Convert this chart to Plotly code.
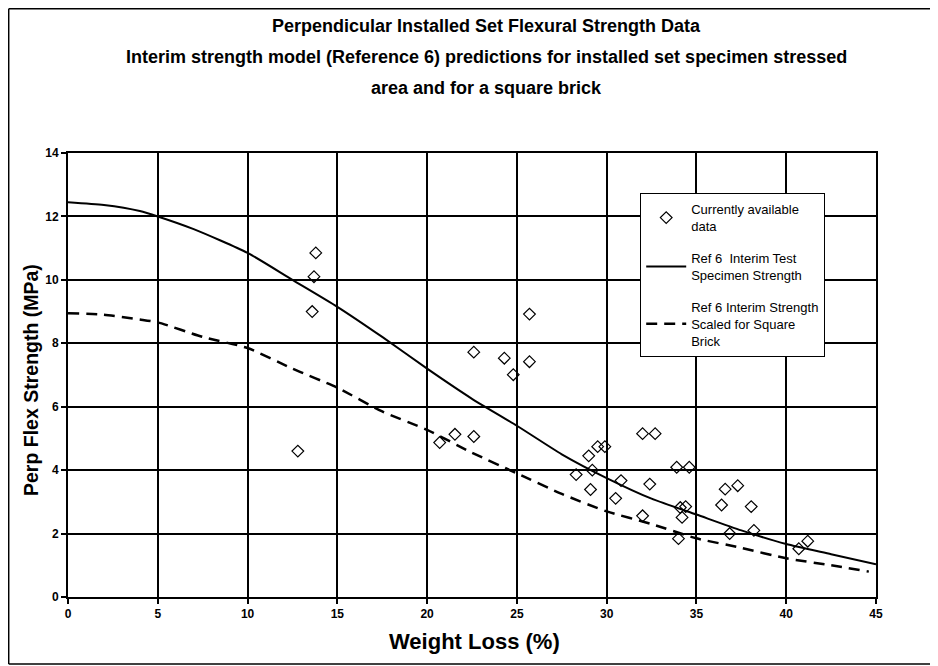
import plotly.graph_objects as go

# Measured data points (weight loss %, strength MPa)
data_x = [13.8, 13.7, 13.6, 12.8, 25.7,
          22.6, 24.3, 25.7, 24.8, 20.7, 21.55, 22.6, 29.5, 29.9, 29.0, 29.2, 28.3, 29.1,
          30.8, 30.5, 32.4, 32.0, 32.0, 32.7,
          33.9, 34.6, 34.1, 34.4, 34.2, 34.0, 36.6, 37.3, 36.4, 38.05, 36.85, 38.2, 40.7, 41.2]
data_y = [10.85, 10.1, 9.0, 4.6, 8.92,
          7.72, 7.53, 7.42, 7.01, 4.87, 5.13, 5.06, 4.74, 4.74, 4.45, 4.0, 3.86, 3.39,
          3.67, 3.11, 3.56, 2.56, 5.15, 5.15,
          4.09, 4.09, 2.82, 2.85, 2.51, 1.84, 3.40, 3.51, 2.9, 2.85, 2.0, 2.1, 1.52, 1.76]

# Model curves
model_x = [0, 2, 4, 5, 7, 10, 12.5, 15, 17.5, 20, 22.5, 25, 27.5, 30, 32.5, 35, 37.5, 40, 42.5, 45]
test_specimen = [12.45, 12.36, 12.17, 12.0, 11.6, 10.85, 10.0, 9.15, 8.2, 7.2, 6.25, 5.4, 4.5, 3.75,
                 3.1, 2.6, 2.1, 1.67, 1.35, 1.03]
square_x = [0, 2, 4, 5, 7.5, 10, 12.5, 15, 17.5, 20, 22.5, 25, 27.5, 30, 32.5, 35, 37.5, 40, 42.5, 44.6]
square_brick = [8.95, 8.9, 8.75, 8.66, 8.2, 7.85, 7.2, 6.6, 5.85, 5.27, 4.55, 3.9, 3.25, 2.7,
                2.3, 1.85, 1.55, 1.22, 1.0, 0.8]

x_ticks = [0, 5, 10, 15, 20, 25, 30, 35, 40, 45]
y_ticks = [0, 2, 4, 6, 8, 10, 12, 14]

FONT = "Liberation Sans Narrow, Arial Narrow, Liberation Sans, Arial, sans-serif"

fig = go.Figure()
fig.add_trace(go.Scatter(
    x=data_x, y=data_y, mode="markers", name="Currently available<br>data",
    legendgroup="a",
    marker=dict(symbol="diamond-open", size=9, color="black", line=dict(width=1.2, color="black")),
))
fig.add_trace(go.Scatter(
    x=model_x, y=test_specimen, mode="lines", name="Ref 6\u00a0 Interim Test<br>Specimen Strength",
    legendgroup="b",
    line=dict(color="black", width=2, shape="spline", smoothing=0.6),
))
fig.add_trace(go.Scatter(
    x=square_x, y=square_brick, mode="lines", name="Ref 6 Interim Strength<br>Scaled for Square<br>Brick",
    legendgroup="c",
    line=dict(color="black", width=2.5, dash="11px,7px", shape="spline", smoothing=0.6),
))

# page body has an 8px margin: map reference pixel coords -> figure coords
OFF = 8
W, H = 938 - OFF, 666 - OFF
L, R, T, B = 68 - OFF, 938 - 876, 153 - OFF, 666 - 597
pw, ph = W - L - R, H - T - B

def px(xp):
    return (xp - OFF - L) / pw

def py(yp):
    return (H - B - (yp - OFF)) / ph

fig.update_layout(
    width=W, height=H,
    margin=dict(l=L, r=R, t=T, b=B),
    paper_bgcolor="white", plot_bgcolor="white",
    font=dict(family=FONT, color="black", size=12),
    showlegend=True,
    legend=dict(
        x=px(640), y=py(193), xanchor="left", yanchor="top",
        bgcolor="white", bordercolor="black", borderwidth=1.2,
        font=dict(family=FONT, size=13, color="black"),
        itemwidth=40, tracegroupgap=12, traceorder="grouped",
    ),
    xaxis=dict(
        range=[0, 45], tickvals=x_ticks, ticktext=[str(v) for v in x_ticks],
        showgrid=True, gridcolor="black", gridwidth=1.6,
        showline=True, linecolor="black", linewidth=1.8, mirror=True,
        ticks="outside", ticklen=5, tickcolor="black", tickwidth=1.5,
        tickfont=dict(family=FONT, size=12, color="black", weight="bold"),
        zeroline=False,
    ),
    yaxis=dict(
        range=[0, 14], tickvals=y_ticks, ticktext=[str(v) for v in y_ticks],
        showgrid=True, gridcolor="black", gridwidth=1.6,
        showline=True, linecolor="black", linewidth=1.8, mirror=True,
        ticks="outside", ticklen=5, tickcolor="black", tickwidth=1.5,
        tickfont=dict(family=FONT, size=12, color="black", weight="bold"),
        zeroline=False,
    ),
)

titles = [
    ("Perpendicular Installed Set Flexural Strength Data", 26),
    ("Interim strength model (Reference 6) predictions for installed set specimen stressed", 57),
    ("area and for a square brick", 88),
]
for text, ypix in titles:
    fig.add_annotation(text="<b>" + text + "</b>", xref="paper", yref="paper",
                       x=px(486), y=py(ypix), xanchor="center", yanchor="middle",
                       showarrow=False, font=dict(family=FONT, size=18, color="black"))

fig.add_annotation(text="<b>Perp Flex Strength (MPa)</b>", xref="paper", yref="paper",
                   x=px(31), y=py(380), xanchor="center", yanchor="middle", textangle=-90,
                   showarrow=False, font=dict(family=FONT, size=19.5, color="black"))
fig.add_annotation(text="<b>Weight Loss (%)</b>", xref="paper", yref="paper",
                   x=px(474), y=py(641), xanchor="center", yanchor="middle",
                   showarrow=False, font=dict(family=FONT, size=22, color="black"))

# outer frame lines of the scanned figure (top, left, bottom)
for x0, y0, x1, y1 in [(8.7, 8.7, 938, 8.7), (8.7, 8.7, 8.7, 664), (8.7, 664, 938, 664)]:
    fig.add_shape(type="line", xref="paper", yref="paper",
                  x0=px(x0), y0=py(y0), x1=px(x1), y1=py(y1),
                  line=dict(color="black", width=1.5), layer="below")

fig.write_html("out.html")
